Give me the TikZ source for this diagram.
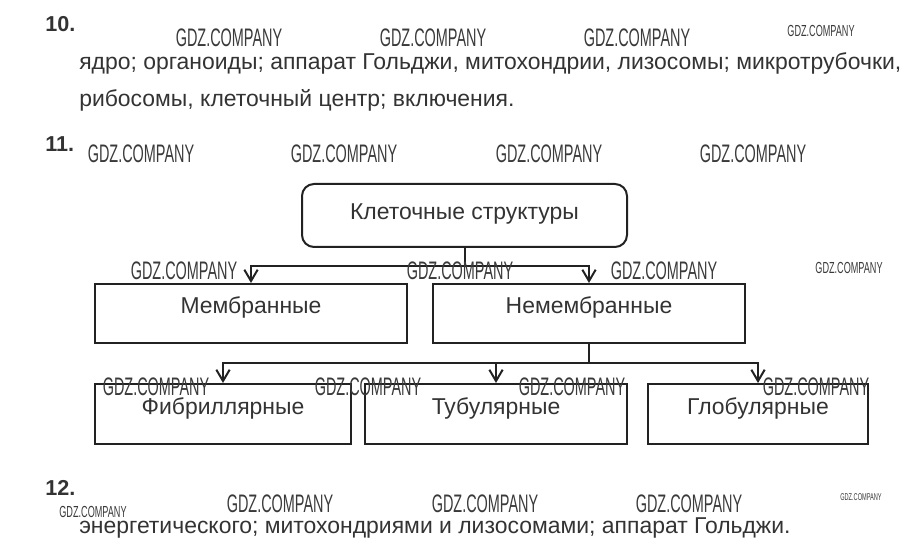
\documentclass[tikz,border=0pt]{standalone}
\usepackage{fontspec}
\setmainfont{Liberation Sans}
\newfontfamily\wmfont[FakeStretch=0.57]{Liberation Sans}
\usetikzlibrary{arrows.meta}
\definecolor{ink}{HTML}{333333}
\definecolor{edge}{HTML}{222222}
\definecolor{wmink}{HTML}{3A3A3A}
\begin{document}
\begin{tikzpicture}[
			x=0.75pt, y=-0.75pt,
			every node/.style={text=ink, inner sep=0pt, font=\fontsize{17.2}{20}\selectfont},
			num/.style={anchor=base west, font=\fontsize{16.2}{18}\bfseries},
			line/.style={anchor=base west},
			cellbox/.style={draw=edge, line width=1.5pt, text height=12pt, text depth=12pt},
			topbox/.style={cellbox, rounded corners=9pt, text depth=6.4pt},
			link/.style={draw=edge, line width=1.5pt},
			arr/.style={link, -{Straight Barb[length=8.5pt, width=10pt]}},
			wm/.style={anchor=base, text=wmink, font=\wmfont\fontsize{19}{19}\selectfont}
		]
		\useasboundingbox (0,0) rectangle (912,559);
		\node[num] (n10) at (45,32) {10.};
		\node[line] (a1) at (79,70) {ядро; органоиды; аппарат Гольджи, митохондрии, лизосомы; микротрубочки,};
		\node[line] (a2) at (79,107) {рибосомы, клеточный центр; включения.};
		\node[num] (n11) at (45,152) {11.};
		\node[num] (n12) at (45,495) {12.};
		\node[line] (a3) at (79,533) {энергетического; митохондриями и лизосомами; аппарат Гольджи.};

		\node[topbox, minimum width=243.75pt, minimum height=47.25pt] (cell) at (464.5,215.5) {Клеточные структуры};
		\node[cellbox, minimum width=234pt, minimum height=44.25pt] (memb) at (251,313.5) {Мембранные};
		\node[cellbox, minimum width=234pt, minimum height=44.25pt] (nonmemb) at (589,313.5) {Немембранные};
		\node[cellbox, minimum width=192pt, minimum height=45pt] (fibr) at (223,414) {Фибриллярные};
		\node[cellbox, minimum width=196.5pt, minimum height=45pt] (tubul) at (496,414) {Тубулярные};
		\node[cellbox, minimum width=165pt, minimum height=45pt] (glob) at (758,414) {Глобулярные};

		\coordinate (j1) at (464.5,266);
		\coordinate (j2) at (589,363);
		\draw[link] (cell.south) -- (j1);
		\draw[arr] (j1) -| (memb.north);
		\draw[arr] (j1) -| (nonmemb.north);
		\draw[link] (nonmemb.south) -- (j2);
		\draw[arr] (j2) -| (fibr.north);
		\draw[arr] (j2) -| (tubul.north);
		\draw[arr] (j2) -| (glob.north);

		\foreach \x/\y [count=\i] in {229/47, 433/47, 637/47, 141/163, 344/163, 549/163, 753/163,
				184/280, 460/280, 664/280, 156/395, 368/395, 572/395, 816/395, 280/512, 485/512, 689/512}
			\node[wm] (wm\i) at (\x,\y) {GDZ.COMPANY};
		\node[wm, font=\wmfont\fontsize{12}{12}\selectfont] (wms1) at (821,37) {GDZ.COMPANY};
		\node[wm, font=\wmfont\fontsize{12}{12}\selectfont] (wms2) at (849,273) {GDZ.COMPANY};
		\node[wm, font=\wmfont\fontsize{12}{12}\selectfont] (wms3) at (93,517) {GDZ.COMPANY};
		\node[wm, font=\wmfont\fontsize{7.4}{8}\selectfont] (wms4) at (861,500) {GDZ.COMPANY};
	\end{tikzpicture}
\end{document}
